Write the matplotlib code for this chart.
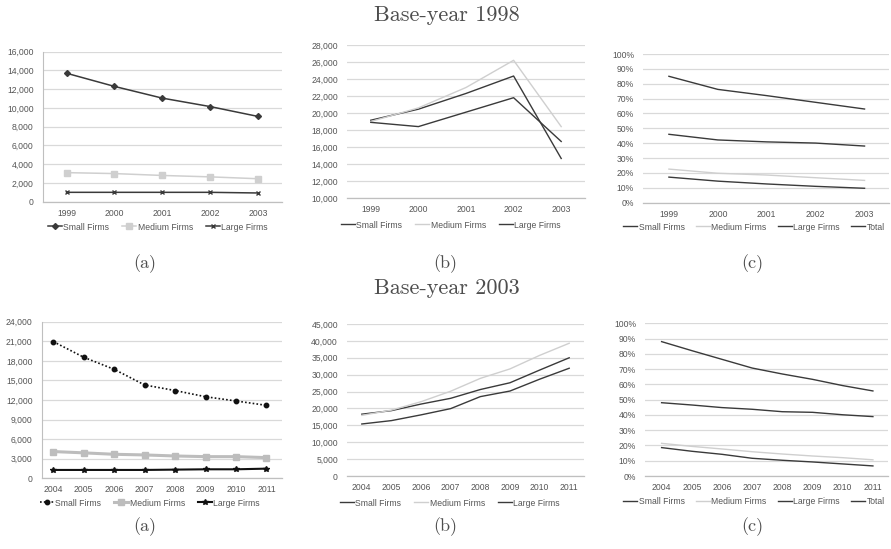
import matplotlib
matplotlib.use("Agg")
import matplotlib.pyplot as plt
from matplotlib.ticker import FuncFormatter, MultipleLocator

# ---------------- data ----------------
years_98 = ["1999", "2000", "2001", "2002", "2003"]
years_03 = ["2004", "2005", "2006", "2007", "2008", "2009", "2010", "2011"]

# Base-year 1998 (a): number of firms
a98_small = [13700, 12300, 11050, 10150, 9100]
a98_medium = [3100, 3000, 2800, 2650, 2450]
a98_large = [1000, 1000, 1000, 1000, 930]

# Base-year 1998 (b)
b98_small = [19150, 20450, 22300, 24350, 14650]
b98_medium = [19000, 20600, 23000, 26200, 18400]
b98_large = [18900, 18400, 20100, 21800, 16650]

# Base-year 1998 (c): shares (%)
c98_small = [85, 76.2, 72, 67.5, 63]
c98_medium = [22.6, 19.8, 18.6, 16.8, 15]
c98_large = [17.2, 14.5, 12.6, 11, 9.7]
c98_total = [46, 42.2, 40.9, 40.1, 38.1]

# Base-year 2003 (a)
a03_small = [20950, 18550, 16700, 14300, 13450, 12500, 11850, 11180]
a03_medium = [4100, 3900, 3680, 3580, 3420, 3320, 3320, 3170]
a03_large = [1280, 1280, 1280, 1280, 1330, 1380, 1380, 1480]

# Base-year 2003 (b)
b03_small = [18300, 19350, 21300, 23000, 25600, 27600, 31350, 35000]
b03_medium = [17950, 19500, 22000, 25100, 28900, 31700, 35700, 39300]
b03_large = [15400, 16400, 18100, 19950, 23500, 25150, 28650, 31900]

# Base-year 2003 (c)
c03_small = [88, 82.1, 76.4, 70.7, 66.8, 63.3, 59.2, 55.7]
c03_medium = [21.4, 19.4, 17.7, 15.9, 14.4, 13.1, 12, 10.6]
c03_large = [18.6, 16.2, 14.2, 11.6, 10.3, 9.2, 7.9, 6.6]
c03_total = [48, 46.5, 44.8, 43.7, 42.1, 41.7, 40.1, 38.9]

labels3 = ["Small Firms", "Medium Firms", "Large Firms"]
labels4 = ["Small Firms", "Medium Firms", "Large Firms", "Total"]

# ---------------- styling ----------------
W, H = 891, 549
fig = plt.figure(figsize=(W / 100, H / 100), dpi=100)
fig.patch.set_facecolor("white")

TICKFONT = "Liberation Sans"
TICKCOL = "#555555"
GRID = "#d9d9d9"
AXIS = "#bfbfbf"
DARK = "#3a3a3a"
LIGHT = "#cfcfcf"
FS = 6.2


def make_ax(l, t, r, b):
    return fig.add_axes([l / W, 1 - b / H, (r - l) / W, (b - t) / H])


def style(ax, n, xlim, ylim, step, pct=False, left_spine=False, cats=None):
    ax.set_xlim(*xlim)
    ax.set_ylim(*ylim)
    ax.yaxis.set_major_locator(MultipleLocator(step))
    if pct:
        ax.yaxis.set_major_formatter(FuncFormatter(lambda v, p: f"{int(round(v))}%"))
    else:
        ax.yaxis.set_major_formatter(FuncFormatter(lambda v, p: f"{int(v):,}"))
    ax.set_xticks(range(n))
    ax.set_xticklabels(cats)
    ax.grid(axis="y", color=GRID, lw=0.9, zorder=0)
    ax.set_axisbelow(True)
    for s in ["top", "right"]:
        ax.spines[s].set_visible(False)
    ax.spines["left"].set_visible(left_spine)
    ax.spines["left"].set_color(AXIS)
    ax.spines["bottom"].set_color(AXIS)
    ax.spines["bottom"].set_linewidth(0.9)
    ax.tick_params(axis="both", length=0, labelsize=FS, labelcolor=TICKCOL)
    ax.tick_params(axis="y", pad=6.5)
    ax.tick_params(axis="x", pad=5)
    for lab in ax.get_xticklabels() + ax.get_yticklabels():
        lab.set_fontfamily(TICKFONT)


def legend(ax, cx, cy, ncol, spacing=1.5):
    lg = ax.legend(loc="center", bbox_to_anchor=(cx / W, 1 - cy / H),
                   bbox_transform=fig.transFigure, ncol=ncol, frameon=False,
                   handlelength=1.6, handletextpad=0.2, columnspacing=spacing,
                   prop={"family": TICKFONT, "size": FS})
    for t in lg.get_texts():
        t.set_color(TICKCOL)


x98 = list(range(len(years_98)))
x03 = list(range(len(years_03)))

# ---- top (a)
ax = make_ax(42.7, 51.7, 281.7, 201.7)
ax.plot(x98, a98_small, color=DARK, lw=1.1, marker="D", ms=3, label=labels3[0])
ax.plot(x98, a98_medium, color=LIGHT, lw=1.1, marker="s", ms=4, label=labels3[1])
ax.plot(x98, a98_large, color=DARK, lw=1.1, marker="x", ms=3.5, mew=1, label=labels3[2])
style(ax, 5, (-0.5, 4.5), (0, 16000), 2000, left_spine=True, cats=years_98)
legend(ax, 158, 227, 3)

# ---- top (b)
ax = make_ax(347, 45, 585, 198)
ax.plot(x98, b98_small, color=DARK, lw=1.0, label=labels3[0])
ax.plot(x98, b98_medium, color=LIGHT, lw=1.0, label=labels3[1])
ax.plot(x98, b98_large, color=DARK, lw=1.0, label=labels3[2])
style(ax, 5, (-0.5, 4.5), (10000, 28000), 2000, cats=years_98)
legend(ax, 451, 225, 3)

# ---- top (c)
ax = make_ax(643, 54, 889, 202.7)
ax.plot(x98, c98_small, color=DARK, lw=1.0, label=labels4[0])
ax.plot(x98, c98_medium, color=LIGHT, lw=1.0, label=labels4[1])
ax.plot(x98, c98_large, color=DARK, lw=1.0, label=labels4[2])
ax.plot(x98, c98_total, color=DARK, lw=1.0, label=labels4[3])
style(ax, 5, (-0.53, 4.5), (0, 100), 10, pct=True, cats=years_98)
legend(ax, 754, 227, 4, spacing=1.3)

# ---- bottom (a)
ax = make_ax(41.7, 321.7, 281.7, 478.3)
ax.plot(x03, a03_small, color="#111111", lw=1.2, ls=(0, (1, 1.3)), marker="o", ms=3.2, label=labels3[0])
ax.plot(x03, a03_medium, color="#bdbdbd", lw=2.2, marker="s", ms=5, label=labels3[1])
ax.plot(x03, a03_large, color="#111111", lw=1.5, marker="*", ms=4, label=labels3[2])
style(ax, 8, (-0.38, 7.5), (0, 24000), 3000, left_spine=True, cats=years_03)
legend(ax, 150, 503, 3)

# ---- bottom (b)
ax = make_ax(347, 324, 584, 476)
ax.plot(x03, b03_small, color=DARK, lw=1.0, label=labels3[0])
ax.plot(x03, b03_medium, color=LIGHT, lw=1.0, label=labels3[1])
ax.plot(x03, b03_large, color=DARK, lw=1.0, label=labels3[2])
style(ax, 8, (-0.5, 7.5), (0, 45000), 5000, cats=years_03)
legend(ax, 450, 503, 3)

# ---- bottom (c)
ax = make_ax(645, 323.3, 888, 476)
ax.plot(x03, c03_small, color=DARK, lw=1.0, label=labels4[0])
ax.plot(x03, c03_medium, color=LIGHT, lw=1.0, label=labels4[1])
ax.plot(x03, c03_large, color=DARK, lw=1.0, label=labels4[2])
ax.plot(x03, c03_total, color=DARK, lw=1.0, label=labels4[3])
style(ax, 8, (-0.55, 7.5), (0, 100), 10, pct=True, cats=years_03)
legend(ax, 754, 502, 4, spacing=1.3)

# ---- titles & panel labels (Computer Modern style)
SERIF = "cmr10"
TCOL = "#4d4d4d"
fig.text(447 / W, 1 - 15 / H, "Base-year 1998", ha="center", va="center",
         fontfamily=SERIF, fontsize=16, color=TCOL)
fig.text(447 / W, 1 - 288 / H, "Base-year 2003", ha="center", va="center",
         fontfamily=SERIF, fontsize=16, color=TCOL)
for cx, lab in [(145, "(a)"), (445, "(b)"), (752, "(c)")]:
    fig.text(cx / W, 1 - 264 / H, lab, ha="center", va="center",
             fontfamily=SERIF, fontsize=13, color=TCOL)
    fig.text(cx / W, 1 - 527 / H, lab, ha="center", va="center",
             fontfamily=SERIF, fontsize=13, color=TCOL)

fig.savefig("out.png", dpi=100, facecolor="white")
